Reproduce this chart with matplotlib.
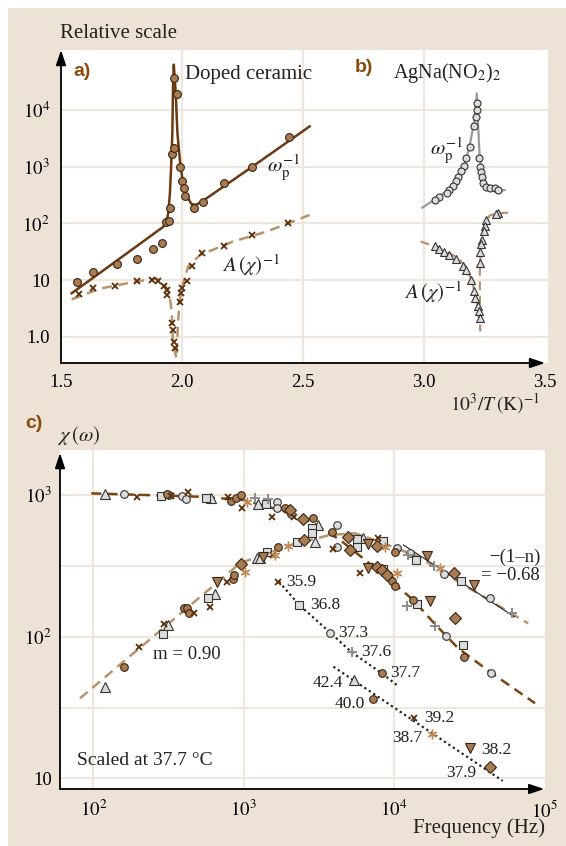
import matplotlib
matplotlib.use('Agg')
import matplotlib.pyplot as plt
from matplotlib.patches import Rectangle

plt.rcParams['font.family'] = ['Liberation Serif', 'DejaVu Serif']
plt.rcParams['mathtext.fontset'] = 'stix'

BEIGE = '#ece2d6'
GRID = '#efe6dc'
DARK = '#6b3a12'
TAN = '#b8946a'
BROWN = '#a87c52'
LIGHT = '#dcdcdc'
LABEL = '#8a4a0c'

# ---------------- panel a: doped ceramic ----------------
a_circ_x = [1.567, 1.631, 1.73, 1.815, 1.88, 1.916, 1.933, 1.947, 1.95, 1.96, 1.967,
            1.967, 1.98, 1.992, 1.999, 2.007, 2.014, 2.05, 2.087, 2.172, 2.288, 2.443]
a_circ_y = [9.2, 14, 19, 24, 36, 45, 107, 112, 185, 1660, 2170,
            36000, 19000, 980, 560, 430, 310, 185, 235, 520, 975, 3300]
a_fit_x = [1.544, 1.70, 1.85, 1.922, 1.936, 1.943, 1.950, 1.955, 1.960, 1.963, 1.966,
           1.970, 1.974, 1.981, 1.991, 2.002, 2.018, 2.039, 2.060, 2.090, 2.300, 2.527]
a_fit_y = [5.9, 17.8, 52, 87, 107, 151, 339, 1000, 3890, 30000, 63000,
           35000, 19500, 3890, 1320, 589, 316, 219, 214, 257, 1070, 5130]
a_cross_x = [1.574, 1.633, 1.725, 1.812, 1.874, 1.901, 1.926, 1.936, 1.938, 1.959, 1.963,
             1.967, 1.973, 1.991, 1.995, 2.0, 2.022, 2.043, 2.084, 2.172, 2.288, 2.439]
a_cross_y = [5.7, 7.4, 7.9, 9.6, 10.2, 9.7, 8.0, 6.7, 5.5, 1.74, 1.32,
             0.82, 0.63, 4.2, 5.9, 7.4, 9.6, 17.8, 30, 40, 63, 103]
a_dash_x = [1.544, 1.661, 1.798, 1.894, 1.922, 1.935, 1.947, 1.957, 1.963, 1.977,
            1.984, 1.991, 2.004, 2.025, 2.073, 2.21, 2.35, 2.527]
a_dash_y = [4.6, 7.1, 9.3, 10.7, 9.1, 7.4, 5.9, 2.9, 0.76, 0.42,
            2.0, 4.5, 8.7, 17.4, 27.5, 48, 72, 141]

# ---------------- panel b: AgNa(NO2)2 ----------------
b_circ_x = [3.218, 3.218, 3.215, 3.208, 3.19, 3.174, 3.163, 3.153, 3.142, 3.132, 3.121, 3.104,
            3.093, 3.063, 3.046, 3.225, 3.232, 3.236, 3.239, 3.243, 3.257, 3.271, 3.292, 3.306]
b_circ_y = [13200, 10000, 7410, 5250, 2190, 1410, 1020, 832, 661, 562, 457, 389,
            347, 288, 257, 1450, 977, 813, 661, 525, 447, 427, 417, 389]
b_fit_x = [2.993, 3.049, 3.10, 3.132, 3.165, 3.1875, 3.208, 3.218, 3.222, 3.229, 3.24,
           3.264, 3.299, 3.333]
b_fit_y = [190, 275, 390, 575, 1000, 2240, 6600, 19500, 6600, 1740, 660, 427, 363, 389]
b_tri_x = [3.306, 3.296, 3.257, 3.25, 3.246, 3.24, 3.236, 3.233, 3.229, 3.044, 3.063,
           3.083, 3.104, 3.132, 3.16, 3.174, 3.194, 3.206, 3.211, 3.222, 3.225, 3.233]
b_tri_y = [155, 145, 117, 89, 74, 52, 43, 31, 20, 40, 36,
           32, 28, 24, 18, 15, 10, 6.5, 4.9, 3.5, 2.9, 2.2]
b_dash_x = [2.986, 3.049, 3.132, 3.174, 3.201, 3.222, 3.232, 3.230, 3.236, 3.25,
            3.271, 3.299, 3.347]
b_dash_y = [48, 39, 26, 17.4, 8.7, 3.4, 1.3, 13, 51, 100, 138, 151, 155]

# ---------------- panel c: chi(omega) vs frequency ----------------
c_tri_f = [120, 610, 1250, 120, 316, 640, 1222, 1290, 2985, 3140, 6250, 5430]
c_tri_v = [1010, 948, 860, 44, 121, 200, 357, 361, 468, 614, 494, 49.4]
c_circl_f = [161, 320, 387, 415, 1660, 1660, 2060, 4170, 4170, 10450, 12800, 21600,
             43600, 22130, 44040, 3760]
c_circl_v = [1010, 1000, 990, 937, 898, 813, 731, 614, 431, 421, 388, 277,
             187, 101, 55, 107]
c_x_f = [194, 330, 428, 785, 970, 1550, 2170, 201, 297, 467, 597, 773, 1580, 3920,
         5960, 7800, 1690, 13700]
c_x_v = [973, 985, 1044, 973, 805, 696, 703, 84, 122, 146, 163, 245, 377, 414,
         283, 494, 243, 26.5]
c_sq_f = [282, 560, 1400, 292, 575, 1425, 2250, 2840, 2840, 5710, 5710, 8510, 8510,
          13960, 27900, 14190, 28700, 2340]
c_sq_v = [990, 948, 860, 104, 188, 398, 468, 582, 537, 487, 431, 476, 299,
          347, 247, 169, 87, 168]
c_circb_f = [307, 830, 885, 962, 1880, 2885, 3850, 10160, 160, 398, 422, 436, 853, 860,
             1700, 9190, 9660, 10160, 13450, 29440, 8300, 7300]
c_circb_v = [1010, 907, 957, 1000, 805, 685, 551, 398, 61, 160, 160, 146, 254, 272,
             431, 272, 247, 228, 182, 72, 55.2, 36.1]
c_diam_f = [2040, 2490, 4980, 5100, 7690, 962, 2535, 7670, 8300, 8950, 25200, 25500, 43500]
c_diam_v = [783, 673, 508, 409, 437, 324, 481, 312, 296, 272, 283, 136, 12.0]
c_dtri_f = [662, 1352, 6760, 6760, 16500, 34300, 17380, 32100]
c_dtri_v = [244, 367, 451, 304, 371, 232, 179, 16.3]
c_ast_f = [1050, 1020, 1620, 1980, 8730, 10440, 20300, 18000]
c_ast_v = [898, 288, 377, 439, 431, 283, 304, 20.5]
c_plus_f = [1190, 1460, 12400, 18600, 60800, 12160, 18740, 5240]
c_plus_v = [957, 937, 377, 315, 146, 165, 119, 77.6]

c_real_f = [97, 513, 996, 1750, 2900, 4390, 6430, 9440, 13400, 18200, 26700, 43600, 86900]
c_real_v = [1028, 973, 922, 783, 634, 481, 348, 251, 182, 127, 83, 56.4, 33.9]
c_imag_f = [81.5, 947, 1980, 3760, 5500, 7480, 14500, 26800, 44700, 78300]
c_imag_v = [36.7, 330, 439, 523, 537, 481, 367, 244, 177, 124]
c_slope_f = [11560, 63500]
c_slope_v = [444, 138]
c_dot1_f = [1720, 2340, 3760, 5240, 8300, 10450]
c_dot1_v = [244, 168, 107, 77.6, 55.2, 45.6]
c_dot2_f = [3960, 52950]
c_dot2_v = [61.4, 9.6]

# temperature labels (°C) next to the peak points
c_temp_f = [1690, 2340, 3760, 5240, 8300, 5430, 7300, 13700, 18000, 32100, 43500]
c_temp_v = [243, 168, 107, 77.6, 55.2, 49.4, 36.1, 26.5, 20.5, 16.3, 12.0]
c_temp_txt = ['35.9', '36.8', '37.3', '37.6', '37.7', '42.4', '40.0', '39.2', '38.7', '38.2', '37.9']

W, H = 566, 846
fig = plt.figure(figsize=(W / 100, H / 100), dpi=100, facecolor='white')


def fx(px):
    return px / W


def fy(py):
    return 1 - py / H


fig.patches.append(Rectangle((fx(8), 0), 1 - fx(8), fy(8), transform=fig.transFigure,
                             facecolor=BEIGE, edgecolor='none', zorder=-10))


def arrows(ax, xend, yend):
    st = '-|>,head_length=0.6,head_width=0.2'
    ax.annotate('', xy=(xend, 0), xytext=(0, 0), xycoords='axes fraction',
                arrowprops=dict(arrowstyle=st, color='black', lw=1.3, mutation_scale=15,
                                shrinkA=0, shrinkB=0), annotation_clip=False)
    ax.annotate('', xy=(0, yend), xytext=(0, 0), xycoords='axes fraction',
                arrowprops=dict(arrowstyle=st, color='black', lw=1.3, mutation_scale=15,
                                shrinkA=0, shrinkB=0), annotation_clip=False)


# ---------- top axes (a and b share one frame) ----------
axA = fig.add_axes([fx(61), fy(363), (548 - 61) / W, (363 - 50) / H], facecolor='white')
axA.set_yscale('log')
axA.set_xlim(1.5, 3.512)
axA.set_ylim(0.348, 114000)
for s in axA.spines.values():
    s.set_visible(False)
for yv in [1, 10, 100, 1e3, 1e4]:
    axA.axhline(yv, color=GRID, lw=1.5, zorder=0)
for xv in [2.0, 2.5, 3.0]:
    axA.axvline(xv, color=GRID, lw=1.5, zorder=0)
axA.set_xticks([1.5, 2.0, 2.5, 3.0, 3.5])
axA.set_xticklabels(['1.5', '2.0', '2.5', '3.0', '3.5'])
axA.set_yticks([1, 10, 100, 1e3, 1e4])
axA.set_yticklabels(['1.0', '10', r'$10^2$', r'$10^3$', r'$10^4$'])
axA.minorticks_off()
axA.tick_params(length=0, labelsize=13.5, pad=8)
arrows(axA, (3.5 - 1.5) / 2.012, 1.0)

axA.plot(a_fit_x, a_fit_y, color=DARK, lw=1.8, zorder=2)
axA.plot(a_dash_x, a_dash_y, color=TAN, lw=1.8, ls=(0, (4, 2.5)), zorder=2)
axA.plot(a_circ_x, a_circ_y, 'o', ms=5.6, mfc=BROWN, mec='#3a2310', mew=0.8, zorder=3)
axA.plot(a_cross_x, a_cross_y, 'x', ms=4.6, color='#5a2e08', mew=1.3, zorder=3)

axA.plot(b_fit_x, b_fit_y, color='#9a9a9a', lw=1.6, zorder=2)
axA.plot(b_dash_x, b_dash_y, color=TAN, lw=1.6, ls=(0, (4, 2.5)), zorder=2)
axA.plot(b_circ_x, b_circ_y, 'o', ms=5, mfc=LIGHT, mec='#333333', mew=0.8, zorder=3)
axA.plot(b_tri_x, b_tri_y, '^', ms=5.5, mfc=LIGHT, mec='#333333', mew=0.8, zorder=3)

# ---------- bottom axes (c) ----------
axC = fig.add_axes([fx(60), fy(789), (545 - 60) / W, (789 - 450) / H], facecolor='white')
axC.set_xscale('log')
axC.set_yscale('log')
axC.set_xlim(60.0, 101200)
axC.set_ylim(8.41, 2080)
for s in axC.spines.values():
    s.set_visible(False)
for yv in [10, 31.6, 100, 316, 1000]:
    axC.axhline(yv, color=GRID, lw=1.5, zorder=0)
for xv in [1e2, 1e3, 1e4]:
    axC.axvline(xv, color=GRID, lw=1.5, zorder=0)
axC.set_xticks([1e2, 1e3, 1e4, 1e5])
axC.set_xticklabels([r'$10^2$', r'$10^3$', r'$10^4$', r'$10^5$'])
axC.set_yticks([10, 100, 1000])
axC.set_yticklabels(['10', r'$10^2$', r'$10^3$'])
axC.minorticks_off()
axC.tick_params(axis='y', length=0, labelsize=13.5, pad=6)
axC.tick_params(axis='x', length=0, labelsize=13.5, pad=8)
arrows(axC, 0.9985, 0.991)

axC.plot(c_real_f, c_real_v, color='#7a4510', lw=1.8, ls=(0, (4, 2.5)), zorder=2)
axC.plot(c_imag_f, c_imag_v, color=TAN, lw=1.8, ls=(0, (4, 2.5)), zorder=2)
axC.plot(c_slope_f, c_slope_v, color='#222222', lw=0.8, zorder=2)
axC.plot(c_dot1_f, c_dot1_v, color='#222222', lw=1.6, ls=(0, (1, 1.4)), zorder=2)
axC.plot(c_dot2_f, c_dot2_v, color='#222222', lw=1.6, ls=(0, (1, 1.4)), zorder=2)

edge = '#333333'
bedge = '#3a2310'
axC.plot(c_tri_f, c_tri_v, '^', ms=7, mfc=LIGHT, mec=edge, mew=0.8, ls='none', zorder=3)
axC.plot(c_circl_f, c_circl_v, 'o', ms=5.5, mfc=LIGHT, mec=edge, mew=0.8, ls='none', zorder=3)
axC.plot(c_sq_f, c_sq_v, 's', ms=5.5, mfc=LIGHT, mec=edge, mew=0.8, ls='none', zorder=3)
axC.plot(c_circb_f, c_circb_v, 'o', ms=5.5, mfc=BROWN, mec=bedge, mew=0.8, ls='none', zorder=3)
axC.plot(c_diam_f, c_diam_v, 'D', ms=6, mfc=BROWN, mec=bedge, mew=0.8, ls='none', zorder=3)
axC.plot(c_dtri_f, c_dtri_v, 'v', ms=7, mfc=BROWN, mec=bedge, mew=0.8, ls='none', zorder=3)
axC.plot(c_x_f, c_x_v, 'x', ms=5, color='#5a2e08', mew=1.3, ls='none', zorder=3)
axC.plot(c_ast_f, c_ast_v, marker=(6, 2, 0), ms=7, color='#c08a55', mew=1.0, ls='none', zorder=3)
axC.plot(c_plus_f, c_plus_v, '+', ms=7, color='#8c8c8c', mew=1.4, ls='none', zorder=3)

offsets = {'35.9': (6, 0, 'left'), '36.8': (8, 0, 'left'), '37.3': (6, 0, 'left'),
           '37.6': (7, 0, 'left'), '37.7': (6, 0, 'left'), '42.4': (-8, -2, 'right'),
           '40.0': (-6, -3, 'right'), '39.2': (7, 0, 'left'), '38.7': (-7, -3, 'right'),
           '38.2': (8, -1, 'left'), '37.9': (-10, -4, 'right')}
for f, v, t in zip(c_temp_f, c_temp_v, c_temp_txt):
    dx, dy, ha = offsets[t]
    axC.annotate(t, (f, v), xytext=(dx, dy), textcoords='offset points',
                 ha=ha, va='center', fontsize=12.5, color='#222222', zorder=4)

# ---------- texts ----------
TXT = '#222222'
fig.text(fx(60), fy(33), 'Relative scale', fontsize=15, va='center', ha='left', color=TXT)
fig.text(fx(73), fy(72), 'a)', fontsize=14, va='center', ha='left', color=LABEL,
         family='Liberation Sans', weight='bold')
fig.text(fx(185), fy(75), 'Doped ceramic', fontsize=15, va='center', ha='left', color=TXT)
fig.text(fx(355), fy(67), 'b)', fontsize=14, va='center', ha='left', color=LABEL,
         family='Liberation Sans', weight='bold')
fig.text(fx(393), fy(73), r'AgNa(NO$_2$)$_2$', fontsize=14.5, va='center', ha='left', color=TXT)
fig.text(fx(267), fy(167), r'$\omega_{\rm p}^{-1}$', fontsize=15, va='center', ha='left', color=TXT)
fig.text(fx(222), fy(265), r'$A\,(\chi)^{-1}$', fontsize=15, va='center', ha='left', color=TXT)
fig.text(fx(430), fy(150), r'$\omega_{\rm p}^{-1}$', fontsize=15, va='center', ha='left', color=TXT)
fig.text(fx(404), fy(292), r'$A\,(\chi)^{-1}$', fontsize=15, va='center', ha='left', color=TXT)
fig.text(fx(450), fy(404), r'$10^3/T\,(\mathrm{K})^{-1}$', fontsize=14, va='center', ha='left', color=TXT)

fig.text(fx(25), fy(423), 'c)', fontsize=14, va='center', ha='left', color=LABEL,
         family='Liberation Sans', weight='bold')
fig.text(fx(57), fy(435), r'$\chi\,(\omega)$', fontsize=15, va='center', ha='left', color=TXT)
fig.text(fx(153), fy(654), 'm = 0.90', fontsize=13.5, va='center', ha='left', color=TXT)
fig.text(fx(77), fy(760), 'Scaled at 37.7 °C', fontsize=14, va='center', ha='left', color=TXT)
fig.text(fx(540), fy(557), '\u2212(1\u2013n)', fontsize=13.5, va='center', ha='right', color=TXT)
fig.text(fx(540), fy(575), '= \u22120.68', fontsize=13.5, va='center', ha='right', color=TXT)
fig.text(fx(545), fy(828), 'Frequency (Hz)', fontsize=15, va='center', ha='right', color=TXT)

fig.savefig('out.png', dpi=100, facecolor=fig.get_facecolor())
